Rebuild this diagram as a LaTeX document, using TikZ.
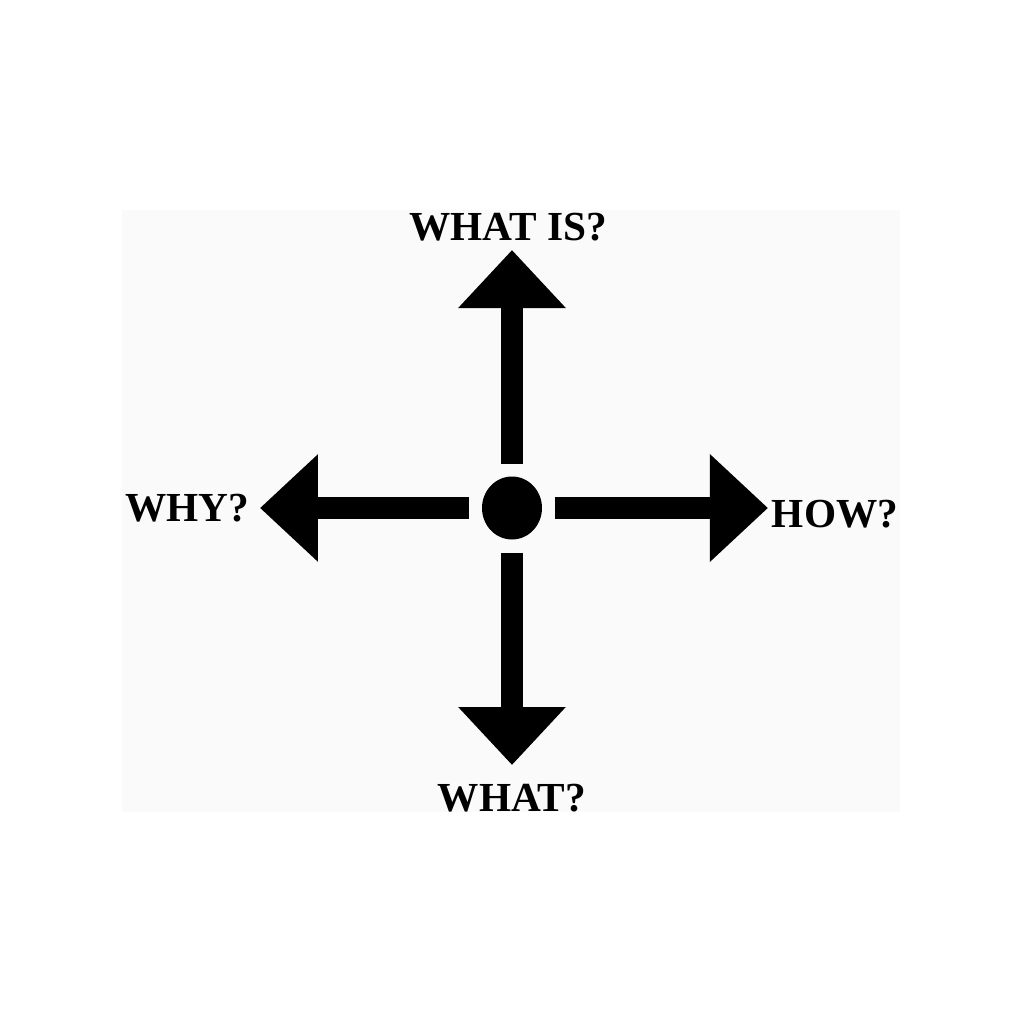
\documentclass[tikz,border=0pt]{standalone}
\usepackage{fontspec}
\setmainfont{Liberation Serif}
\usetikzlibrary{arrows.meta,positioning}
\tikzset{lbl/.style={draw=none, fill=none, inner sep=0pt, outer sep=0pt, font=\bfseries\fontsize{23.5}{27}\selectfont}}
\tikzset{bigarr/.style={-{Triangle[length=1.16cm, width=2.08cm]}, line width=0.44cm, shorten <=0.26cm}}
\tikzset{hubdot/.style={ellipse, fill=black, draw=none, minimum width=1.2cm, minimum height=1.26cm, inner sep=0pt, outer sep=0pt}}
\usetikzlibrary{shapes.geometric}
\definecolor{cbg}{RGB}{250,250,250}

\begin{document}
\begin{tikzpicture}[x=1cm, y=1cm]
        \useasboundingbox (-10.24,-10.32) rectangle (10.24,10.16);
        \fill[cbg] (-7.8,-6.08) rectangle (7.76,5.96);

        %%% CENTRE + ARROW TIPS %%%
        \node[hubdot] (hub) at (0,0) {};
        \coordinate (uptip) at (0,5.16);
        \coordinate (downtip) at (0,-5.14);
        \coordinate (lefttip) at (-5.04,0);
        \coordinate (righttip) at (5.12,0);

        %%% LABELS %%%
        \node[lbl, above=0.18cm of uptip, xshift=-0.08cm] (whatis) {WHAT IS?};
        \node[lbl, below=0.38cm of downtip] (what) {WHAT?};
        \node[lbl, left=0.22cm of lefttip] (why) {WHY?};
        \node[lbl, right=0.08cm of righttip, yshift=-0.12cm] (how) {HOW?};

        %%% ARROWS %%%
        \draw[bigarr] (hub) -- (uptip);
        \draw[bigarr] (hub) -- (downtip);
        \draw[bigarr] (hub) -- (lefttip);
        \draw[bigarr] (hub) -- (righttip);
    \end{tikzpicture}
\end{document}
